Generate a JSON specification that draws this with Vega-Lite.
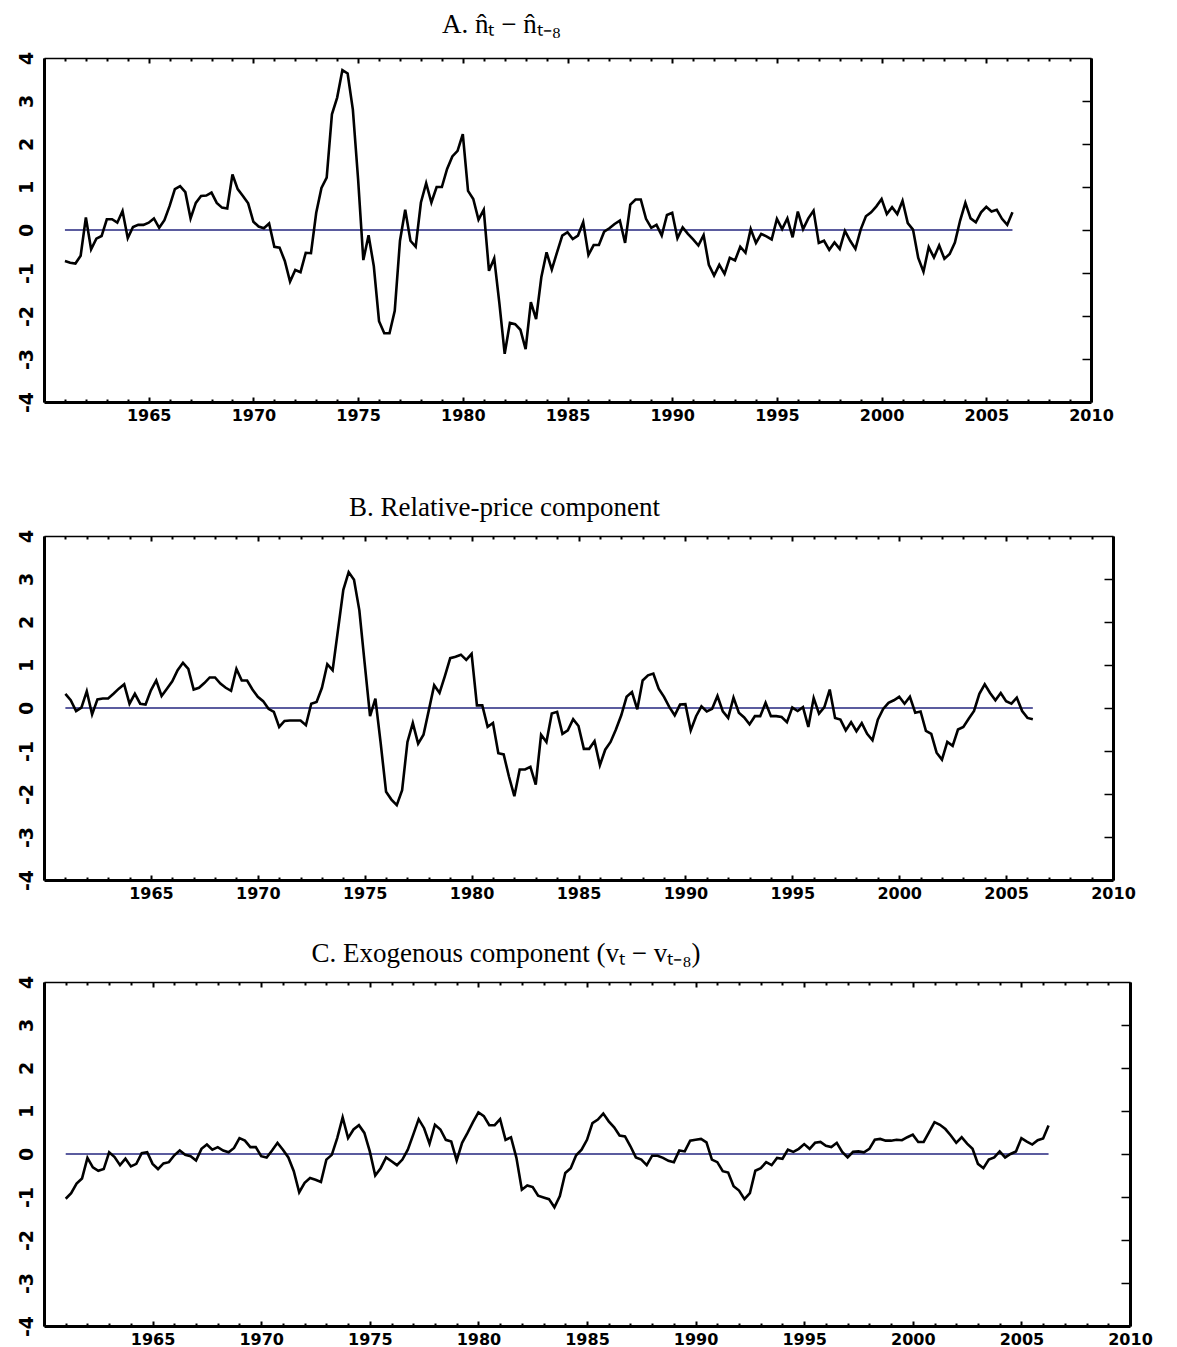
{
  "$schema": "https://vega.github.io/schema/vega-lite/v6.json",
  "background": "white",
  "padding": {"left": 17, "top": 11, "right": 5, "bottom": 0},
  "config": {
    "view": {"stroke": null},
    "title": {"font": "Liberation Serif", "fontSize": 27, "fontWeight": "normal", "color": "black", "anchor": "middle", "frame": "group"},
    "axis": {"grid": false, "domainColor": "black", "tickColor": "black", "labelColor": "black", "labelFont": "DejaVu Sans", "labelFontWeight": "bold"}
  },
  "datasets": {
    "zero": [{"start": 1961, "end": 2006.25, "y": 0}],
    "a": [
      {"t":1961,"v":-0.72},{"t":1961.25,"v":-0.76},{"t":1961.5,"v":-0.78},{"t":1961.75,"v":-0.6},
      {"t":1962,"v":0.29},{"t":1962.25,"v":-0.45},{"t":1962.5,"v":-0.2},{"t":1962.75,"v":-0.14},
      {"t":1963,"v":0.25},{"t":1963.25,"v":0.25},{"t":1963.5,"v":0.17},{"t":1963.75,"v":0.44},
      {"t":1964,"v":-0.19},{"t":1964.25,"v":0.07},{"t":1964.5,"v":0.12},{"t":1964.75,"v":0.12},
      {"t":1965,"v":0.17},{"t":1965.25,"v":0.27},{"t":1965.5,"v":0.05},{"t":1965.75,"v":0.23},
      {"t":1966,"v":0.56},{"t":1966.25,"v":0.95},{"t":1966.5,"v":1.02},{"t":1966.75,"v":0.88},
      {"t":1967,"v":0.27},{"t":1967.25,"v":0.63},{"t":1967.5,"v":0.79},{"t":1967.75,"v":0.8},
      {"t":1968,"v":0.87},{"t":1968.25,"v":0.63},{"t":1968.5,"v":0.52},{"t":1968.75,"v":0.5},
      {"t":1969,"v":1.29},{"t":1969.25,"v":0.95},{"t":1969.5,"v":0.79},{"t":1969.75,"v":0.62},
      {"t":1970,"v":0.19},{"t":1970.25,"v":0.08},{"t":1970.5,"v":0.04},{"t":1970.75,"v":0.15},
      {"t":1971,"v":-0.39},{"t":1971.25,"v":-0.41},{"t":1971.5,"v":-0.72},{"t":1971.75,"v":-1.2},
      {"t":1972,"v":-0.93},{"t":1972.25,"v":-0.98},{"t":1972.5,"v":-0.53},{"t":1972.75,"v":-0.54},
      {"t":1973,"v":0.4},{"t":1973.25,"v":0.98},{"t":1973.5,"v":1.22},{"t":1973.75,"v":2.69},
      {"t":1974,"v":3.08},{"t":1974.25,"v":3.72},{"t":1974.5,"v":3.64},{"t":1974.75,"v":2.8},
      {"t":1975,"v":1.18},{"t":1975.25,"v":-0.7},{"t":1975.5,"v":-0.12},{"t":1975.75,"v":-0.84},
      {"t":1976,"v":-2.12},{"t":1976.25,"v":-2.4},{"t":1976.5,"v":-2.4},{"t":1976.75,"v":-1.88},
      {"t":1977,"v":-0.25},{"t":1977.25,"v":0.47},{"t":1977.5,"v":-0.25},{"t":1977.75,"v":-0.39},
      {"t":1978,"v":0.64},{"t":1978.25,"v":1.09},{"t":1978.5,"v":0.64},{"t":1978.75,"v":1.0},
      {"t":1979,"v":1.0},{"t":1979.25,"v":1.42},{"t":1979.5,"v":1.71},{"t":1979.75,"v":1.84},
      {"t":1980,"v":2.23},{"t":1980.25,"v":0.91},{"t":1980.5,"v":0.72},{"t":1980.75,"v":0.24},
      {"t":1981,"v":0.47},{"t":1981.25,"v":-0.95},{"t":1981.5,"v":-0.66},{"t":1981.75,"v":-1.72},
      {"t":1982,"v":-2.88},{"t":1982.25,"v":-2.16},{"t":1982.5,"v":-2.19},{"t":1982.75,"v":-2.32},
      {"t":1983,"v":-2.77},{"t":1983.25,"v":-1.68},{"t":1983.5,"v":-2.07},{"t":1983.75,"v":-1.1},
      {"t":1984,"v":-0.52},{"t":1984.25,"v":-0.92},{"t":1984.5,"v":-0.52},{"t":1984.75,"v":-0.13},
      {"t":1985,"v":-0.05},{"t":1985.25,"v":-0.21},{"t":1985.5,"v":-0.13},{"t":1985.75,"v":0.18},
      {"t":1986,"v":-0.58},{"t":1986.25,"v":-0.35},{"t":1986.5,"v":-0.35},{"t":1986.75,"v":-0.04},
      {"t":1987,"v":0.04},{"t":1987.25,"v":0.14},{"t":1987.5,"v":0.22},{"t":1987.75,"v":-0.3},
      {"t":1988,"v":0.59},{"t":1988.25,"v":0.71},{"t":1988.5,"v":0.71},{"t":1988.75,"v":0.26},
      {"t":1989,"v":0.05},{"t":1989.25,"v":0.12},{"t":1989.5,"v":-0.13},{"t":1989.75,"v":0.35},
      {"t":1990,"v":0.4},{"t":1990.25,"v":-0.19},{"t":1990.5,"v":0.06},{"t":1990.75,"v":-0.09},
      {"t":1991,"v":-0.22},{"t":1991.25,"v":-0.36},{"t":1991.5,"v":-0.12},{"t":1991.75,"v":-0.81},
      {"t":1992,"v":-1.06},{"t":1992.25,"v":-0.81},{"t":1992.5,"v":-1.02},{"t":1992.75,"v":-0.65},
      {"t":1993,"v":-0.71},{"t":1993.25,"v":-0.39},{"t":1993.5,"v":-0.53},{"t":1993.75,"v":0.02},
      {"t":1994,"v":-0.3},{"t":1994.25,"v":-0.09},{"t":1994.5,"v":-0.15},{"t":1994.75,"v":-0.22},
      {"t":1995,"v":0.26},{"t":1995.25,"v":0.02},{"t":1995.5,"v":0.27},{"t":1995.75,"v":-0.17},
      {"t":1996,"v":0.43},{"t":1996.25,"v":0.02},{"t":1996.5,"v":0.27},{"t":1996.75,"v":0.45},
      {"t":1997,"v":-0.3},{"t":1997.25,"v":-0.25},{"t":1997.5,"v":-0.46},{"t":1997.75,"v":-0.29},
      {"t":1998,"v":-0.44},{"t":1998.25,"v":-0.02},{"t":1998.5,"v":-0.25},{"t":1998.75,"v":-0.44},
      {"t":1999,"v":0.01},{"t":1999.25,"v":0.32},{"t":1999.5,"v":0.41},{"t":1999.75,"v":0.55},
      {"t":2000,"v":0.72},{"t":2000.25,"v":0.37},{"t":2000.5,"v":0.53},{"t":2000.75,"v":0.37},
      {"t":2001,"v":0.68},{"t":2001.25,"v":0.16},{"t":2001.5,"v":0.01},{"t":2001.75,"v":-0.65},
      {"t":2002,"v":-0.97},{"t":2002.25,"v":-0.4},{"t":2002.5,"v":-0.64},{"t":2002.75,"v":-0.36},
      {"t":2003,"v":-0.67},{"t":2003.25,"v":-0.56},{"t":2003.5,"v":-0.29},{"t":2003.75,"v":0.22},
      {"t":2004,"v":0.63},{"t":2004.25,"v":0.27},{"t":2004.5,"v":0.18},{"t":2004.75,"v":0.41},
      {"t":2005,"v":0.54},{"t":2005.25,"v":0.43},{"t":2005.5,"v":0.47},{"t":2005.75,"v":0.26},
      {"t":2006,"v":0.12},{"t":2006.25,"v":0.41}
    ],
    "b": [
      {"t":1961,"v":0.33},{"t":1961.25,"v":0.18},{"t":1961.5,"v":-0.07},{"t":1961.75,"v":0.01},
      {"t":1962,"v":0.39},{"t":1962.25,"v":-0.15},{"t":1962.5,"v":0.2},{"t":1962.75,"v":0.22},
      {"t":1963,"v":0.22},{"t":1963.25,"v":0.33},{"t":1963.5,"v":0.45},{"t":1963.75,"v":0.55},
      {"t":1964,"v":0.1},{"t":1964.25,"v":0.33},{"t":1964.5,"v":0.1},{"t":1964.75,"v":0.08},
      {"t":1965,"v":0.41},{"t":1965.25,"v":0.64},{"t":1965.5,"v":0.28},{"t":1965.75,"v":0.45},
      {"t":1966,"v":0.62},{"t":1966.25,"v":0.88},{"t":1966.5,"v":1.05},{"t":1966.75,"v":0.91},
      {"t":1967,"v":0.43},{"t":1967.25,"v":0.47},{"t":1967.5,"v":0.58},{"t":1967.75,"v":0.71},
      {"t":1968,"v":0.71},{"t":1968.25,"v":0.57},{"t":1968.5,"v":0.47},{"t":1968.75,"v":0.4},
      {"t":1969,"v":0.91},{"t":1969.25,"v":0.64},{"t":1969.5,"v":0.64},{"t":1969.75,"v":0.43},
      {"t":1970,"v":0.26},{"t":1970.25,"v":0.16},{"t":1970.5,"v":-0.02},{"t":1970.75,"v":-0.09},
      {"t":1971,"v":-0.44},{"t":1971.25,"v":-0.3},{"t":1971.5,"v":-0.29},{"t":1971.75,"v":-0.29},
      {"t":1972,"v":-0.29},{"t":1972.25,"v":-0.4},{"t":1972.5,"v":0.1},{"t":1972.75,"v":0.14},
      {"t":1973,"v":0.47},{"t":1973.25,"v":1.02},{"t":1973.5,"v":0.88},{"t":1973.75,"v":1.81},
      {"t":1974,"v":2.75},{"t":1974.25,"v":3.16},{"t":1974.5,"v":2.98},{"t":1974.75,"v":2.27},
      {"t":1975,"v":1.03},{"t":1975.25,"v":-0.19},{"t":1975.5,"v":0.22},{"t":1975.75,"v":-0.83},
      {"t":1976,"v":-1.95},{"t":1976.25,"v":-2.13},{"t":1976.5,"v":-2.26},{"t":1976.75,"v":-1.91},
      {"t":1977,"v":-0.79},{"t":1977.25,"v":-0.35},{"t":1977.5,"v":-0.83},{"t":1977.75,"v":-0.62},
      {"t":1978,"v":-0.05},{"t":1978.25,"v":0.53},{"t":1978.5,"v":0.35},{"t":1978.75,"v":0.74},
      {"t":1979,"v":1.16},{"t":1979.25,"v":1.19},{"t":1979.5,"v":1.24},{"t":1979.75,"v":1.12},
      {"t":1980,"v":1.26},{"t":1980.25,"v":0.06},{"t":1980.5,"v":0.06},{"t":1980.75,"v":-0.44},
      {"t":1981,"v":-0.35},{"t":1981.25,"v":-1.05},{"t":1981.5,"v":-1.08},{"t":1981.75,"v":-1.6},
      {"t":1982,"v":-2.05},{"t":1982.25,"v":-1.43},{"t":1982.5,"v":-1.43},{"t":1982.75,"v":-1.37},
      {"t":1983,"v":-1.78},{"t":1983.25,"v":-0.62},{"t":1983.5,"v":-0.79},{"t":1983.75,"v":-0.13},
      {"t":1984,"v":-0.09},{"t":1984.25,"v":-0.6},{"t":1984.5,"v":-0.52},{"t":1984.75,"v":-0.26},
      {"t":1985,"v":-0.42},{"t":1985.25,"v":-0.95},{"t":1985.5,"v":-0.95},{"t":1985.75,"v":-0.77},
      {"t":1986,"v":-1.33},{"t":1986.25,"v":-0.97},{"t":1986.5,"v":-0.79},{"t":1986.75,"v":-0.5},
      {"t":1987,"v":-0.17},{"t":1987.25,"v":0.26},{"t":1987.5,"v":0.37},{"t":1987.75,"v":-0.03},
      {"t":1988,"v":0.64},{"t":1988.25,"v":0.76},{"t":1988.5,"v":0.8},{"t":1988.75,"v":0.45},
      {"t":1989,"v":0.26},{"t":1989.25,"v":0.02},{"t":1989.5,"v":-0.17},{"t":1989.75,"v":0.08},
      {"t":1990,"v":0.09},{"t":1990.25,"v":-0.52},{"t":1990.5,"v":-0.19},{"t":1990.75,"v":0.04},
      {"t":1991,"v":-0.08},{"t":1991.25,"v":-0.02},{"t":1991.5,"v":0.28},{"t":1991.75,"v":-0.08},
      {"t":1992,"v":-0.23},{"t":1992.25,"v":0.24},{"t":1992.5,"v":-0.11},{"t":1992.75,"v":-0.22},
      {"t":1993,"v":-0.38},{"t":1993.25,"v":-0.19},{"t":1993.5,"v":-0.19},{"t":1993.75,"v":0.12},
      {"t":1994,"v":-0.19},{"t":1994.25,"v":-0.19},{"t":1994.5,"v":-0.21},{"t":1994.75,"v":-0.33},
      {"t":1995,"v":0.01},{"t":1995.25,"v":-0.07},{"t":1995.5,"v":0.02},{"t":1995.75,"v":-0.44},
      {"t":1996,"v":0.23},{"t":1996.25,"v":-0.13},{"t":1996.5,"v":0.02},{"t":1996.75,"v":0.43},
      {"t":1997,"v":-0.23},{"t":1997.25,"v":-0.27},{"t":1997.5,"v":-0.52},{"t":1997.75,"v":-0.33},
      {"t":1998,"v":-0.54},{"t":1998.25,"v":-0.35},{"t":1998.5,"v":-0.6},{"t":1998.75,"v":-0.75},
      {"t":1999,"v":-0.27},{"t":1999.25,"v":-0.02},{"t":1999.5,"v":0.12},{"t":1999.75,"v":0.18},
      {"t":2000,"v":0.26},{"t":2000.25,"v":0.1},{"t":2000.5,"v":0.26},{"t":2000.75,"v":-0.11},
      {"t":2001,"v":-0.08},{"t":2001.25,"v":-0.53},{"t":2001.5,"v":-0.6},{"t":2001.75,"v":-1.04},
      {"t":2002,"v":-1.2},{"t":2002.25,"v":-0.79},{"t":2002.5,"v":-0.88},{"t":2002.75,"v":-0.5},
      {"t":2003,"v":-0.44},{"t":2003.25,"v":-0.25},{"t":2003.5,"v":-0.07},{"t":2003.75,"v":0.33},
      {"t":2004,"v":0.55},{"t":2004.25,"v":0.35},{"t":2004.5,"v":0.18},{"t":2004.75,"v":0.35},
      {"t":2005,"v":0.16},{"t":2005.25,"v":0.1},{"t":2005.5,"v":0.24},{"t":2005.75,"v":-0.07},
      {"t":2006,"v":-0.23},{"t":2006.25,"v":-0.26}
    ],
    "c": [
      {"t":1961,"v":-1.04},{"t":1961.25,"v":-0.91},{"t":1961.5,"v":-0.69},{"t":1961.75,"v":-0.57},
      {"t":1962,"v":-0.09},{"t":1962.25,"v":-0.31},{"t":1962.5,"v":-0.39},{"t":1962.75,"v":-0.35},
      {"t":1963,"v":0.04},{"t":1963.25,"v":-0.07},{"t":1963.5,"v":-0.26},{"t":1963.75,"v":-0.11},
      {"t":1964,"v":-0.29},{"t":1964.25,"v":-0.23},{"t":1964.5,"v":0.02},{"t":1964.75,"v":0.04},
      {"t":1965,"v":-0.23},{"t":1965.25,"v":-0.35},{"t":1965.5,"v":-0.22},{"t":1965.75,"v":-0.19},
      {"t":1966,"v":-0.03},{"t":1966.25,"v":0.08},{"t":1966.5,"v":-0.02},{"t":1966.75,"v":-0.05},
      {"t":1967,"v":-0.15},{"t":1967.25,"v":0.12},{"t":1967.5,"v":0.22},{"t":1967.75,"v":0.1},
      {"t":1968,"v":0.16},{"t":1968.25,"v":0.08},{"t":1968.5,"v":0.04},{"t":1968.75,"v":0.14},
      {"t":1969,"v":0.37},{"t":1969.25,"v":0.31},{"t":1969.5,"v":0.16},{"t":1969.75,"v":0.16},
      {"t":1970,"v":-0.05},{"t":1970.25,"v":-0.08},{"t":1970.5,"v":0.08},{"t":1970.75,"v":0.26},
      {"t":1971,"v":0.1},{"t":1971.25,"v":-0.08},{"t":1971.5,"v":-0.4},{"t":1971.75,"v":-0.89},
      {"t":1972,"v":-0.67},{"t":1972.25,"v":-0.56},{"t":1972.5,"v":-0.6},{"t":1972.75,"v":-0.65},
      {"t":1973,"v":-0.13},{"t":1973.25,"v":-0.02},{"t":1973.5,"v":0.37},{"t":1973.75,"v":0.85},
      {"t":1974,"v":0.37},{"t":1974.25,"v":0.57},{"t":1974.5,"v":0.67},{"t":1974.75,"v":0.49},
      {"t":1975,"v":0.06},{"t":1975.25,"v":-0.5},{"t":1975.5,"v":-0.33},{"t":1975.75,"v":-0.08},
      {"t":1976,"v":-0.17},{"t":1976.25,"v":-0.26},{"t":1976.5,"v":-0.13},{"t":1976.75,"v":0.1},
      {"t":1977,"v":0.45},{"t":1977.25,"v":0.81},{"t":1977.5,"v":0.6},{"t":1977.75,"v":0.24},
      {"t":1978,"v":0.68},{"t":1978.25,"v":0.57},{"t":1978.5,"v":0.33},{"t":1978.75,"v":0.29},
      {"t":1979,"v":-0.15},{"t":1979.25,"v":0.26},{"t":1979.5,"v":0.49},{"t":1979.75,"v":0.74},
      {"t":1980,"v":0.97},{"t":1980.25,"v":0.88},{"t":1980.5,"v":0.67},{"t":1980.75,"v":0.67},
      {"t":1981,"v":0.81},{"t":1981.25,"v":0.33},{"t":1981.5,"v":0.39},{"t":1981.75,"v":-0.09},
      {"t":1982,"v":-0.83},{"t":1982.25,"v":-0.73},{"t":1982.5,"v":-0.77},{"t":1982.75,"v":-0.97},
      {"t":1983,"v":-1.01},{"t":1983.25,"v":-1.05},{"t":1983.5,"v":-1.24},{"t":1983.75,"v":-0.98},
      {"t":1984,"v":-0.44},{"t":1984.25,"v":-0.33},{"t":1984.5,"v":-0.03},{"t":1984.75,"v":0.1},
      {"t":1985,"v":0.33},{"t":1985.25,"v":0.72},{"t":1985.5,"v":0.8},{"t":1985.75,"v":0.94},
      {"t":1986,"v":0.76},{"t":1986.25,"v":0.62},{"t":1986.5,"v":0.43},{"t":1986.75,"v":0.41},
      {"t":1987,"v":0.18},{"t":1987.25,"v":-0.08},{"t":1987.5,"v":-0.13},{"t":1987.75,"v":-0.26},
      {"t":1988,"v":-0.04},{"t":1988.25,"v":-0.04},{"t":1988.5,"v":-0.09},{"t":1988.75,"v":-0.16},
      {"t":1989,"v":-0.19},{"t":1989.25,"v":0.08},{"t":1989.5,"v":0.06},{"t":1989.75,"v":0.31},
      {"t":1990,"v":0.33},{"t":1990.25,"v":0.35},{"t":1990.5,"v":0.27},{"t":1990.75,"v":-0.13},
      {"t":1991,"v":-0.19},{"t":1991.25,"v":-0.4},{"t":1991.5,"v":-0.43},{"t":1991.75,"v":-0.75},
      {"t":1992,"v":-0.85},{"t":1992.25,"v":-1.05},{"t":1992.5,"v":-0.91},{"t":1992.75,"v":-0.39},
      {"t":1993,"v":-0.33},{"t":1993.25,"v":-0.19},{"t":1993.5,"v":-0.26},{"t":1993.75,"v":-0.09},
      {"t":1994,"v":-0.11},{"t":1994.25,"v":0.1},{"t":1994.5,"v":0.05},{"t":1994.75,"v":0.12},
      {"t":1995,"v":0.23},{"t":1995.25,"v":0.12},{"t":1995.5,"v":0.26},{"t":1995.75,"v":0.28},
      {"t":1996,"v":0.19},{"t":1996.25,"v":0.16},{"t":1996.5,"v":0.26},{"t":1996.75,"v":0.05},
      {"t":1997,"v":-0.08},{"t":1997.25,"v":0.05},{"t":1997.5,"v":0.06},{"t":1997.75,"v":0.04},
      {"t":1998,"v":0.12},{"t":1998.25,"v":0.33},{"t":1998.5,"v":0.35},{"t":1998.75,"v":0.31},
      {"t":1999,"v":0.31},{"t":1999.25,"v":0.33},{"t":1999.5,"v":0.32},{"t":1999.75,"v":0.39},
      {"t":2000,"v":0.45},{"t":2000.25,"v":0.28},{"t":2000.5,"v":0.28},{"t":2000.75,"v":0.51},
      {"t":2001,"v":0.74},{"t":2001.25,"v":0.68},{"t":2001.5,"v":0.58},{"t":2001.75,"v":0.43},
      {"t":2002,"v":0.26},{"t":2002.25,"v":0.39},{"t":2002.5,"v":0.24},{"t":2002.75,"v":0.12},
      {"t":2003,"v":-0.23},{"t":2003.25,"v":-0.33},{"t":2003.5,"v":-0.13},{"t":2003.75,"v":-0.08},
      {"t":2004,"v":0.06},{"t":2004.25,"v":-0.08},{"t":2004.5,"v":0.0},{"t":2004.75,"v":0.06},
      {"t":2005,"v":0.37},{"t":2005.25,"v":0.29},{"t":2005.5,"v":0.22},{"t":2005.75,"v":0.32},
      {"t":2006,"v":0.36},{"t":2006.25,"v":0.66}
    ]
  },
  "spacing": 69,
  "vconcat": [
    {
      "width": 1047, "height": 344,
      "title": {"text": "A. n̂ₜ − n̂ₜ₋₈", "dx": -66, "offset": 12},
      "layer": [
        {
          "data": {"name": "zero"},
          "mark": {"type": "rule", "color": "#24267f", "strokeWidth": 1.5},
          "encoding": {
            "x": {"field": "start", "type": "quantitative", "title": null, "scale": {"domain": [1960, 2010], "nice": false, "zero": false},
                  "axis": {"orient": "top", "labels": false, "values": [1960,1961,1962,1963,1964,1965,1966,1967,1968,1969,1970,1971,1972,1973,1974,1975,1976,1977,1978,1979,1980,1981,1982,1983,1984,1985,1986,1987,1988,1989,1990,1991,1992,1993,1994,1995,1996,1997,1998,1999,2000,2001,2002,2003,2004,2005,2006,2007,2008,2009,2010],
                           "tickSize": {"condition": {"test": "datum.value % 5 === 0", "value": -5}, "value": -3}, "tickWidth": 2, "domainWidth": 1.5}},
            "x2": {"field": "end"},
            "y": {"field": "y", "type": "quantitative", "title": null, "scale": {"domain": [-4, 4], "nice": false},
                  "axis": {"orient": "right", "labels": false, "values": [-3,-2,-1,0,1,2,3], "tickSize": -9, "tickWidth": 1.5, "domainWidth": 3}}
          }
        },
        {
          "data": {"name": "a"},
          "mark": {"type": "line", "color": "black", "strokeWidth": 2.6},
          "encoding": {
            "x": {"field": "t", "type": "quantitative", "title": null,
                  "axis": {"orient": "bottom", "format": "d", "values": [1960,1961,1962,1963,1964,1965,1966,1967,1968,1969,1970,1971,1972,1973,1974,1975,1976,1977,1978,1979,1980,1981,1982,1983,1984,1985,1986,1987,1988,1989,1990,1991,1992,1993,1994,1995,1996,1997,1998,1999,2000,2001,2002,2003,2004,2005,2006,2007,2008,2009,2010],
                           "labelExpr": "datum.value % 5 === 0 && datum.value > 1960 ? datum.label : ''", "labelOverlap": false, "labelFlush": false,
                           "tickSize": {"condition": {"test": "datum.value % 5 === 0", "value": -5}, "value": -3}, "tickWidth": 2, "domainWidth": 3, "labelFontSize": 16, "labelPadding": 10}},
            "y": {"field": "v", "type": "quantitative", "title": null,
                  "axis": {"orient": "left", "values": [-4,-3,-2,-1,0,1,2,3,4], "labelExpr": "'' + datum.value", "ticks": false, "domainWidth": 3, "labelAngle": -90, "labelFontSize": 19, "labelPadding": 8}}
          }
        }
      ]
    },
    {
      "spacing": 37,
      "vconcat": [
        {
          "width": 1069, "height": 344,
          "title": {"text": "B. Relative-price component", "dx": -74, "offset": 7},
          "layer": [
            {
              "data": {"name": "zero"},
              "mark": {"type": "rule", "color": "#24267f", "strokeWidth": 1.5},
              "encoding": {
                "x": {"field": "start", "type": "quantitative", "title": null, "scale": {"domain": [1960, 2010], "nice": false, "zero": false},
                      "axis": {"orient": "top", "labels": false, "values": [1960,1961,1962,1963,1964,1965,1966,1967,1968,1969,1970,1971,1972,1973,1974,1975,1976,1977,1978,1979,1980,1981,1982,1983,1984,1985,1986,1987,1988,1989,1990,1991,1992,1993,1994,1995,1996,1997,1998,1999,2000,2001,2002,2003,2004,2005,2006,2007,2008,2009,2010],
                               "tickSize": {"condition": {"test": "datum.value % 5 === 0", "value": -5}, "value": -3}, "tickWidth": 2, "domainWidth": 1.5}},
                "x2": {"field": "end"},
                "y": {"field": "y", "type": "quantitative", "title": null, "scale": {"domain": [-4, 4], "nice": false},
                      "axis": {"orient": "right", "labels": false, "values": [-3,-2,-1,0,1,2,3], "tickSize": -9, "tickWidth": 1.5, "domainWidth": 3}}
              }
            },
            {
              "data": {"name": "b"},
              "mark": {"type": "line", "color": "black", "strokeWidth": 2.6},
              "encoding": {
                "x": {"field": "t", "type": "quantitative", "title": null,
                      "axis": {"orient": "bottom", "format": "d", "values": [1960,1961,1962,1963,1964,1965,1966,1967,1968,1969,1970,1971,1972,1973,1974,1975,1976,1977,1978,1979,1980,1981,1982,1983,1984,1985,1986,1987,1988,1989,1990,1991,1992,1993,1994,1995,1996,1997,1998,1999,2000,2001,2002,2003,2004,2005,2006,2007,2008,2009,2010],
                               "labelExpr": "datum.value % 5 === 0 && datum.value > 1960 ? datum.label : ''", "labelOverlap": false, "labelFlush": false,
                               "tickSize": {"condition": {"test": "datum.value % 5 === 0", "value": -5}, "value": -3}, "tickWidth": 2, "domainWidth": 3, "labelFontSize": 16, "labelPadding": 10}},
                "y": {"field": "v", "type": "quantitative", "title": null,
                      "axis": {"orient": "left", "values": [-4,-3,-2,-1,0,1,2,3,4], "labelExpr": "'' + datum.value", "ticks": false, "domainWidth": 3, "labelAngle": -90, "labelFontSize": 19, "labelPadding": 8}}
              }
            }
          ]
        },
        {
          "width": 1086, "height": 344,
          "title": {"text": "C. Exogenous component (vₜ − vₜ₋₈)", "dx": -81, "offset": 7},
          "layer": [
            {
              "data": {"name": "zero"},
              "mark": {"type": "rule", "color": "#24267f", "strokeWidth": 1.5},
              "encoding": {
                "x": {"field": "start", "type": "quantitative", "title": null, "scale": {"domain": [1960, 2010], "nice": false, "zero": false},
                      "axis": {"orient": "top", "labels": false, "values": [1960,1961,1962,1963,1964,1965,1966,1967,1968,1969,1970,1971,1972,1973,1974,1975,1976,1977,1978,1979,1980,1981,1982,1983,1984,1985,1986,1987,1988,1989,1990,1991,1992,1993,1994,1995,1996,1997,1998,1999,2000,2001,2002,2003,2004,2005,2006,2007,2008,2009,2010],
                               "tickSize": {"condition": {"test": "datum.value % 5 === 0", "value": -5}, "value": -3}, "tickWidth": 2, "domainWidth": 1.5}},
                "x2": {"field": "end"},
                "y": {"field": "y", "type": "quantitative", "title": null, "scale": {"domain": [-4, 4], "nice": false},
                      "axis": {"orient": "right", "labels": false, "values": [-3,-2,-1,0,1,2,3], "tickSize": -9, "tickWidth": 1.5, "domainWidth": 3}}
              }
            },
            {
              "data": {"name": "c"},
              "mark": {"type": "line", "color": "black", "strokeWidth": 2.6},
              "encoding": {
                "x": {"field": "t", "type": "quantitative", "title": null,
                      "axis": {"orient": "bottom", "format": "d", "values": [1960,1961,1962,1963,1964,1965,1966,1967,1968,1969,1970,1971,1972,1973,1974,1975,1976,1977,1978,1979,1980,1981,1982,1983,1984,1985,1986,1987,1988,1989,1990,1991,1992,1993,1994,1995,1996,1997,1998,1999,2000,2001,2002,2003,2004,2005,2006,2007,2008,2009,2010],
                               "labelExpr": "datum.value % 5 === 0 && datum.value > 1960 ? datum.label : ''", "labelOverlap": false, "labelFlush": false,
                               "tickSize": {"condition": {"test": "datum.value % 5 === 0", "value": -5}, "value": -3}, "tickWidth": 2, "domainWidth": 3, "labelFontSize": 16, "labelPadding": 10}},
                "y": {"field": "v", "type": "quantitative", "title": null,
                      "axis": {"orient": "left", "values": [-4,-3,-2,-1,0,1,2,3,4], "labelExpr": "'' + datum.value", "ticks": false, "domainWidth": 3, "labelAngle": -90, "labelFontSize": 19, "labelPadding": 8}}
              }
            }
          ]
        }
      ]
    }
  ]
}
